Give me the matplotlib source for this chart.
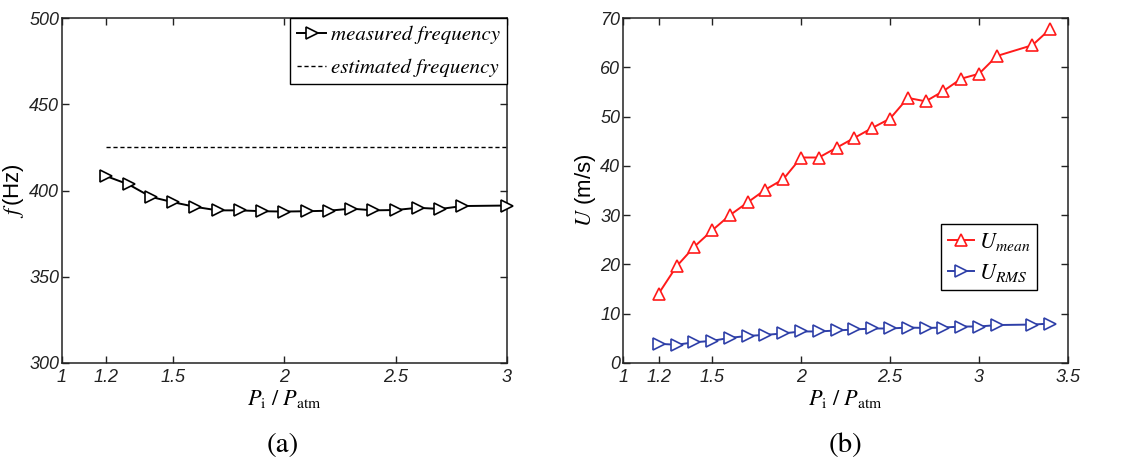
import matplotlib
matplotlib.use("Agg")
import matplotlib.pyplot as plt

plt.rcParams['mathtext.fontset'] = 'stix'
plt.rcParams['font.family'] = ['Liberation Sans', 'DejaVu Sans']

# (a) oscillation frequency vs pressure ratio
ratio_a = [1.2, 1.3, 1.4, 1.5, 1.6, 1.7, 1.8, 1.9, 2.0, 2.1, 2.2, 2.3, 2.4, 2.5,
           2.6, 2.7, 2.8, 3.0]
freq_measured = [408.3, 403.5, 396.3, 393.2, 390.5, 388.5, 388.5, 388.0, 387.8,
                 388.0, 388.3, 389.5, 388.5, 388.7, 390.0, 389.3, 391.0, 391.3]
freq_estimated = 425.0

# (b) mean and RMS velocity vs pressure ratio
ratio_b = [1.2, 1.3, 1.4, 1.5, 1.6, 1.7, 1.8, 1.9, 2.0, 2.1, 2.2, 2.3, 2.4, 2.5,
           2.6, 2.7, 2.8, 2.9, 3.0, 3.1, 3.3, 3.4]
u_mean = [14.1, 19.6, 23.6, 26.9, 30.0, 32.6, 35.2, 37.3, 41.7, 41.7, 43.7, 45.7,
          47.7, 49.6, 53.8, 53.1, 55.2, 57.7, 58.7, 62.3, 64.5, 67.8]
u_rms = [3.9, 3.7, 4.2, 4.5, 5.1, 5.5, 5.7, 6.0, 6.4, 6.4, 6.6, 6.8, 7.0, 7.0,
         7.2, 7.1, 7.2, 7.4, 7.4, 7.7, 7.8, 8.0]

xticks_a = [1, 1.2, 1.5, 2, 2.5, 3]
xtick_labels_a = ['1', '1.2', '1.5', '2', '2.5', '3']
yticks_a = [300, 350, 400, 450, 500]
xticks_b = [1, 1.2, 1.5, 2, 2.5, 3, 3.5]
xtick_labels_b = ['1', '1.2', '1.5', '2', '2.5', '3', '3.5']
yticks_b = [0, 10, 20, 30, 40, 50, 60, 70]

fig = plt.figure(figsize=(11.35, 4.63), dpi=100)
ax1 = fig.add_axes([0.0546, 0.216, 0.392, 0.745])
ax2 = fig.add_axes([0.549, 0.216, 0.392, 0.745])

tick_font = dict(family='Liberation Sans', style='italic', size=13)
serif = ['STIXGeneral', 'Liberation Serif', 'DejaVu Serif']
axis_color = '#222222'


def style_axes(ax, xticks, xlabels, yticks):
    ax.set_xticks(xticks)
    ax.set_xticklabels(xlabels, fontdict=tick_font, color='#222222')
    ax.set_yticks(yticks)
    ax.set_yticklabels([str(v) for v in yticks], fontdict=tick_font,
                       color='#222222')
    ax.tick_params(direction='in', length=5, width=1, top=True, right=True,
                   color=axis_color)
    ax.tick_params(axis='y', pad=2)
    ax.tick_params(axis='x', pad=4)
    for s in ax.spines.values():
        s.set_linewidth(1.1)
        s.set_color(axis_color)


# panel (a)
ax1.plot(ratio_a, freq_measured, color='black', lw=1.4, marker='>',
         markersize=8, markerfacecolor='white', markeredgecolor='black',
         markeredgewidth=1.2, label='measured frequency', clip_on=False, zorder=3)
ax1.plot([ratio_a[0], ratio_a[-1]], [freq_estimated, freq_estimated],
         color='black', lw=1.0, ls=(0, (3, 2)), label='estimated frequency')
ax1.set_xlim(1, 3)
ax1.set_ylim(300, 500)
style_axes(ax1, xticks_a, xtick_labels_a, yticks_a)
ax1.set_xlabel(r'$P_{\rm i}\ /\ P_{\rm atm}$', fontsize=16, labelpad=2)
ax1.set_ylabel(r'$f\,$(Hz)', fontsize=16, labelpad=2)
leg1 = ax1.legend(loc='upper right', frameon=True, fancybox=False, framealpha=1,
                  edgecolor='black', handlelength=1.4, handletextpad=0.2,
                  borderpad=0.35, labelspacing=0.7, borderaxespad=0,
                  prop=dict(family=serif, style='italic', size=15))
leg1.get_frame().set_linewidth(1.0)

# panel (b)
ax2.plot(ratio_b, u_mean, color='#ff1a1a', lw=1.4, marker='^', markersize=8,
         markerfacecolor='white', markeredgecolor='#ff1a1a', markeredgewidth=1.2,
         label=r'$U_{mean}$', zorder=3)
ax2.plot(ratio_b, u_rms, color='#2e3fa8', lw=1.4, marker='>', markersize=8,
         markerfacecolor='white', markeredgecolor='#2e3fa8', markeredgewidth=1.2,
         label=r'$U_{RMS}$', zorder=3)
ax2.set_xlim(1, 3.5)
ax2.set_ylim(0, 70)
style_axes(ax2, xticks_b, xtick_labels_b, yticks_b)
ax2.set_xlabel(r'$P_{\rm i}\ /\ P_{\rm atm}$', fontsize=16, labelpad=2)
ax2.set_ylabel(r'$U$ (m/s)', fontsize=16, labelpad=2)
leg2 = ax2.legend(loc='center', bbox_to_anchor=(0.822, 0.307),
                  frameon=True, fancybox=False, framealpha=1, edgecolor='black',
                  handlelength=1.2, handletextpad=0.2, borderpad=0.3,
                  labelspacing=0.4, prop=dict(size=16))
leg2.get_frame().set_linewidth(1.0)

# panel captions
fig.text(283 / 1135, 1 - 445 / 463, '(a)', ha='center', va='center',
         fontsize=21, family=serif)
fig.text(845 / 1135, 1 - 445 / 463, '(b)', ha='center', va='center',
         fontsize=21, family=serif)

fig.savefig('out.png', dpi=100)
